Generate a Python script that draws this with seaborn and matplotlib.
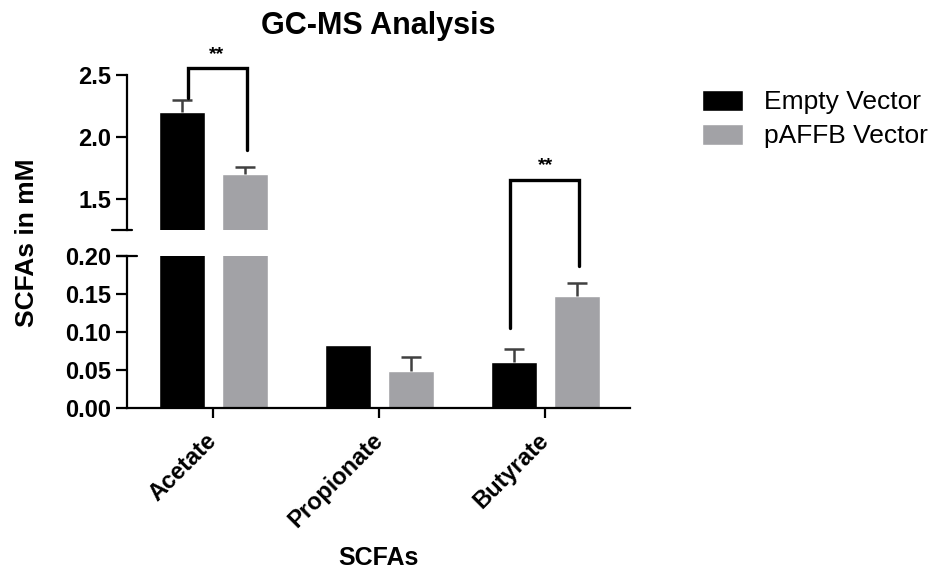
import matplotlib
matplotlib.use("Agg")
import matplotlib.pyplot as plt
import numpy as np
import pandas as pd
import seaborn as sns

# data
acids = ["Acetate", "Propionate", "Butyrate"]
groups = ["Empty Vector", "pAFFB Vector"]
empty_mean = [2.20, 0.083, 0.061]
empty_err = [0.10, 0.0, 0.017]
paffb_mean = [1.70, 0.049, 0.147]
paffb_err = [0.06, 0.018, 0.017]
colors = ["#000000", "#A2A2A6"]

df = pd.DataFrame({
    "acid": acids * 2,
    "group": np.repeat(groups, 3),
    "mM": empty_mean + paffb_mean,
    "err": empty_err + paffb_err,
})

sns.set_style("ticks")
plt.rcParams["font.family"] = ["Liberation Sans", "DejaVu Sans"]
plt.rcParams["axes.linewidth"] = 1.6
for k in ["text.color", "axes.labelcolor", "xtick.color", "ytick.color", "axes.edgecolor"]:
    plt.rcParams[k] = "black"

fig = plt.figure(figsize=(9.35, 5.74), dpi=100)
W, H = 935.0, 574.0
x0, x1 = 127 / W, 630 / W
ax_top = fig.add_axes([x0, 1 - 230 / H, x1 - x0, (230 - 75) / H])
ax_bot = fig.add_axes([x0, 1 - 408 / H, x1 - x0, (408 - 256) / H])

for ax in (ax_top, ax_bot):
    sns.barplot(data=df, x="acid", y="mM", hue="group", palette=colors,
                width=0.76, gap=0.27, errorbar=None, ax=ax, legend=(ax is ax_bot),
                saturation=1)
    # upward-only error bars at the bar tops
    bars = ax.patches[:len(df)]
    for bar, (_, row) in zip(bars, df.iterrows()):
        if row["err"] > 0:
            _, caps, _ = ax.errorbar(bar.get_x() + bar.get_width() / 2, row["mM"],
                                     yerr=[[0], [row["err"]]], fmt="none",
                                     ecolor="#404040", elinewidth=1.8,
                                     capsize=7, capthick=1.8)
            caps[0].set_visible(False)
    ax.set_xlim(-0.52, 2.51)
    ax.set_xlabel("")
    ax.set_ylabel("")
    ax.spines["top"].set_visible(False)
    ax.spines["right"].set_visible(False)
    ax.tick_params(axis="y", direction="out", length=8, width=1.6, labelsize=17)

ax_top.set_ylim(1.25, 2.5)
ax_top.set_yticks([1.5, 2.0, 2.5])
ax_top.yaxis.set_major_formatter(matplotlib.ticker.FormatStrFormatter("%.1f"))
ax_top.spines["bottom"].set_visible(False)
ax_top.tick_params(axis="x", bottom=False, labelbottom=False)

ax_bot.set_ylim(0, 0.2)
ax_bot.set_yticks([0, 0.05, 0.10, 0.15, 0.20])
ax_bot.yaxis.set_major_formatter(matplotlib.ticker.FormatStrFormatter("%.2f"))
ax_bot.tick_params(axis="x", direction="out", length=7, width=1.6, labelsize=17, pad=14)
for lab in ax_bot.get_xticklabels():
    lab.set_rotation(45)
    lab.set_ha("right")
    lab.set_va("center")
    lab.set_rotation_mode("anchor")
for lab in ax_bot.get_xticklabels() + ax_bot.get_yticklabels() + ax_top.get_yticklabels():
    lab.set_fontweight("bold")

# axis break marks
ax_top.plot([-0.03, 0.01], [0, 0], transform=ax_top.transAxes, color="black",
            lw=1.6, clip_on=False)
ax_bot.plot([-0.02, 0.02], [1, 1], transform=ax_bot.transAxes, color="black",
            lw=1.6, clip_on=False)

# significance brackets
ax_top.plot([-0.15, -0.15, 0.20, 0.20], [2.315, 2.556, 2.556, 1.895],
            color="black", lw=2.4, clip_on=False, solid_joinstyle="miter")
ax_top.text(0.02, 2.60, "**", ha="center", va="bottom", fontsize=14,
            fontweight="bold", clip_on=False)
ax_bot.plot([1.79, 1.79, 2.20, 2.20], [0.105, 0.300, 0.300, 0.187],
            color="black", lw=2.4, clip_on=False, solid_joinstyle="miter")
ax_bot.text(2.0, 0.308, "**", ha="center", va="bottom", fontsize=14,
            fontweight="bold", clip_on=False)

# legend
leg = ax_bot.legend(loc="upper left", bbox_to_anchor=(678 / W, 1 - 66 / H),
                    bbox_transform=fig.transFigure, frameon=False, fontsize=19,
                    handlelength=1.55, handleheight=0.85, handletextpad=0.8,
                    labelspacing=0.35)

fig.text((127 + 630) / 2 / W, 1 - 26 / H, "GC-MS Analysis", ha="center",
         va="center", fontsize=22, fontweight="bold")
fig.text(27 / W, 1 - 243 / H, "SCFAs in mM", rotation=90, ha="center",
         va="center", fontsize=19, fontweight="bold")
fig.text((127 + 630) / 2 / W, 1 - 558 / H, "SCFAs", ha="center", va="center",
         fontsize=18, fontweight="bold")

fig.savefig("out.png", dpi=100)
